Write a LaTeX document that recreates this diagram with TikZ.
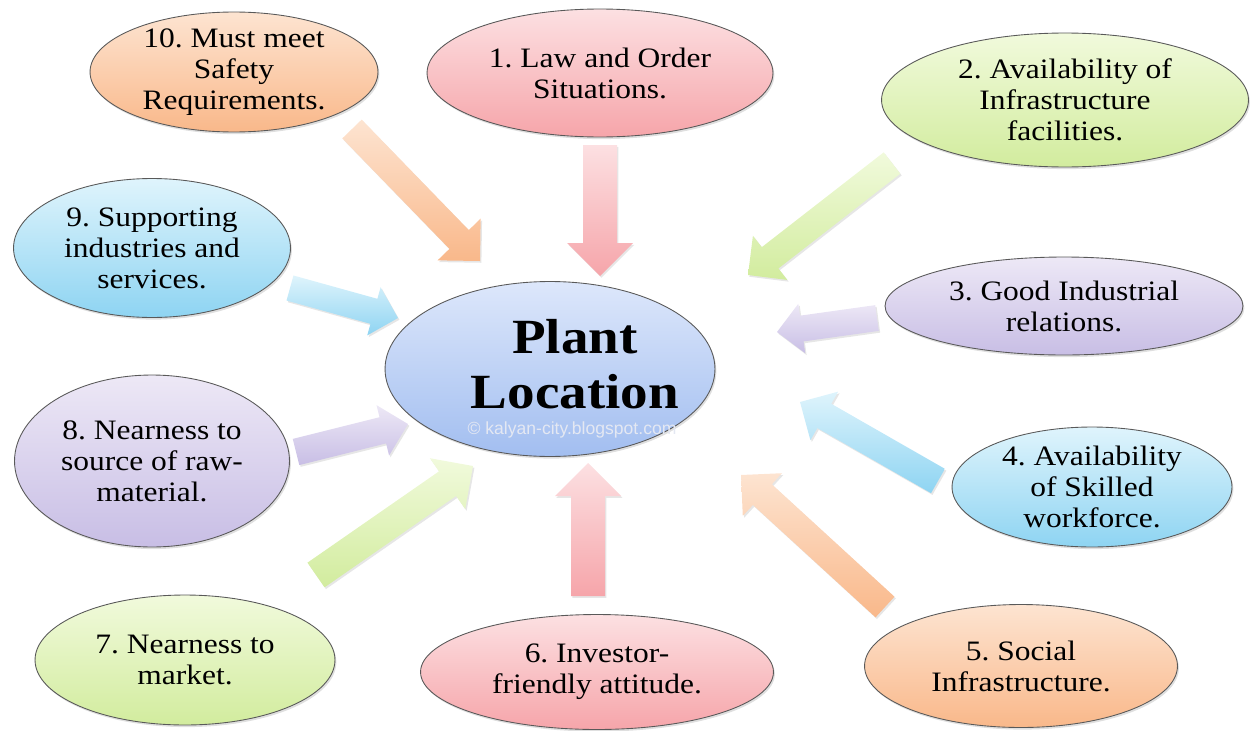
\documentclass[tikz,border=0pt]{standalone}
\usepackage{fontspec}
\setmainfont{Liberation Serif}[FakeStretch=1.12]
\newfontfamily\markfont{Liberation Sans}
\usepackage{tikz}
\frenchspacing
\definecolor{pinkT}{HTML}{FCE0E2}
\definecolor{pinkB}{HTML}{F6A5AA}
\definecolor{orangeT}{HTML}{FDE4D1}
\definecolor{orangeB}{HTML}{F9B88A}
\definecolor{greenT}{HTML}{F1FADC}
\definecolor{greenB}{HTML}{D2EC9E}
\definecolor{purpleT}{HTML}{EDE8F6}
\definecolor{purpleB}{HTML}{C8BEE5}
\definecolor{cyanT}{HTML}{DFF4FC}
\definecolor{cyanB}{HTML}{8ED4F2}
\definecolor{blueT}{HTML}{DDE7FB}
\definecolor{blueB}{HTML}{A2BEF0}
\definecolor{markgrey}{HTML}{E4E8F2}
\usetikzlibrary{shapes.geometric}
\usetikzlibrary{shadows}
\usetikzlibrary{calc}
\tikzstyle{factor}=[ellipse,draw=black!65,line width=0.5pt,inner sep=0pt,
  drop shadow={opacity=0.25,shadow xshift=0.8pt,shadow yshift=-1.2pt}]
\tikzstyle{ftext}=[align=center,inner sep=0pt,font=\fontsize{16}{17.6}\selectfont]
\tikzstyle{arrowfill}=[drop shadow={opacity=0.2,shadow xshift=0.8pt,shadow yshift=-1pt}]
% block arrow: tail, tip, top colour, bottom colour, half shaft, half head
\newcommand{\blockarrow}[6]{%
  \coordinate (#2n) at ($(#2)!#6!(#1)$);
  \path[arrowfill,top color=#3,bottom color=#4]
    ($(#1)!#5!90:(#2)$) -- ($(#2n)!#5!90:(#2)$) -- ($(#2n)!#6!90:(#2)$) -- (#2)
    -- ($(#2n)!#6!-90:(#2)$) -- ($(#2n)!#5!-90:(#2)$) -- ($(#1)!#5!-90:(#2)$) -- cycle;}

\begin{document}
\begin{tikzpicture}[x=0.02cm,y=-0.02cm]
    \useasboundingbox (0,0) rectangle (1250,730);

    % factors round the centre
    \node [factor,top color=blueT,bottom color=blueB,minimum width=6.6cm,minimum height=3.5cm] (plant) at (550,369) {};
    \node [factor,top color=pinkT,bottom color=pinkB,minimum width=6.92cm,minimum height=2.56cm] (f1) at (600,73) {};
    \node [factor,top color=greenT,bottom color=greenB,minimum width=7.34cm,minimum height=2.68cm] (f2) at (1065,100) {};
    \node [factor,top color=purpleT,bottom color=purpleB,minimum width=7.16cm,minimum height=1.96cm] (f3) at (1064,306) {};
    \node [factor,top color=cyanT,bottom color=cyanB,minimum width=5.6cm,minimum height=2.4cm] (f4) at (1092,487) {};
    \node [factor,top color=orangeT,bottom color=orangeB,minimum width=6.26cm,minimum height=2.46cm] (f5) at (1021,666) {};
    \node [factor,top color=pinkT,bottom color=pinkB,minimum width=7.06cm,minimum height=2.3cm] (f6) at (597,672) {};
    \node [factor,top color=greenT,bottom color=greenB,minimum width=6.0cm,minimum height=2.6cm] (f7) at (185,660) {};
    \node [factor,top color=purpleT,bottom color=purpleB,minimum width=5.5cm,minimum height=3.44cm] (f8) at (152,461) {};
    \node [factor,top color=cyanT,bottom color=cyanB,minimum width=5.54cm,minimum height=2.78cm] (f9) at (152,248) {};
    \node [factor,top color=orangeT,bottom color=orangeB,minimum width=5.76cm,minimum height=2.4cm] (f10) at (234,72) {};

    % texts
    \node [align=center,inner sep=0pt,font=\fontsize{28}{31.3}\selectfont\bfseries] (plantt) at ([xshift=0.5cm,yshift=0.1cm]plant) {Plant\\Location};
    \node [text=markgrey,inner sep=0pt,font=\markfont\fontsize{10}{12}\selectfont] (mark) at (572,430) {© kalyan-city.blogspot.com};
    \node [ftext] (t1) at (f1) {1. Law and Order\\Situations.};
    \node [ftext] (t2) at (f2) {2. Availability of\\Infrastructure\\facilities.};
    \node [ftext] (t3) at (f3) {3. Good Industrial\\relations.};
    \node [ftext] (t4) at (f4) {4. Availability\\of Skilled\\workforce.};
    \node [ftext] (t5) at (f5) {5. Social\\Infrastructure.};
    \node [ftext] (t6) at (f6) {6. Investor-\\friendly attitude.};
    \node [ftext] (t7) at (f7) {7. Nearness to\\market.};
    \node [ftext] (t8) at (f8) {8. Nearness to\\source of raw-\\material.};
    \node [ftext] (t9) at (f9) {9. Supporting\\industries and\\services.};
    \node [ftext] (t10) at (f10) {10. Must meet\\Safety\\Requirements.};

    % arrow ends
    \coordinate (a1t) at (600,145);  \coordinate (a1h) at (600,276);
    \coordinate (a2t) at (892,163);  \coordinate (a2h) at (748,275);
    \coordinate (a3t) at (877,318);  \coordinate (a3h) at (777,332);
    \coordinate (a4t) at (938,481);  \coordinate (a4h) at (800,402);
    \coordinate (a5t) at (885,607);  \coordinate (a5h) at (741,475);
    \coordinate (a6t) at (588,596);  \coordinate (a6h) at (588,463);
    \coordinate (a7t) at (316,575);  \coordinate (a7h) at (473,466);
    \coordinate (a8t) at (296,452);  \coordinate (a8h) at (408,424);
    \coordinate (a9t) at (290,288);  \coordinate (a9h) at (398,318);
    \coordinate (a10t) at (352,129); \coordinate (a10h) at (480,261);

    \blockarrow{a1t}{a1h}{pinkT}{pinkB}{0.34cm}{0.66cm}
    \blockarrow{a2t}{a2h}{greenT}{greenB}{0.27cm}{0.56cm}
    \blockarrow{a3t}{a3h}{purpleT}{purpleB}{0.26cm}{0.5cm}
    \blockarrow{a4t}{a4h}{cyanT}{cyanB}{0.28cm}{0.56cm}
    \blockarrow{a5t}{a5h}{orangeT}{orangeB}{0.28cm}{0.58cm}
    \blockarrow{a6t}{a6h}{pinkT}{pinkB}{0.34cm}{0.66cm}
    \blockarrow{a7t}{a7h}{greenT}{greenB}{0.3cm}{0.62cm}
    \blockarrow{a8t}{a8h}{purpleT}{purpleB}{0.27cm}{0.52cm}
    \blockarrow{a9t}{a9h}{cyanT}{cyanB}{0.26cm}{0.5cm}
    \blockarrow{a10t}{a10h}{orangeT}{orangeB}{0.27cm}{0.6cm}
\end{tikzpicture}
\end{document}
